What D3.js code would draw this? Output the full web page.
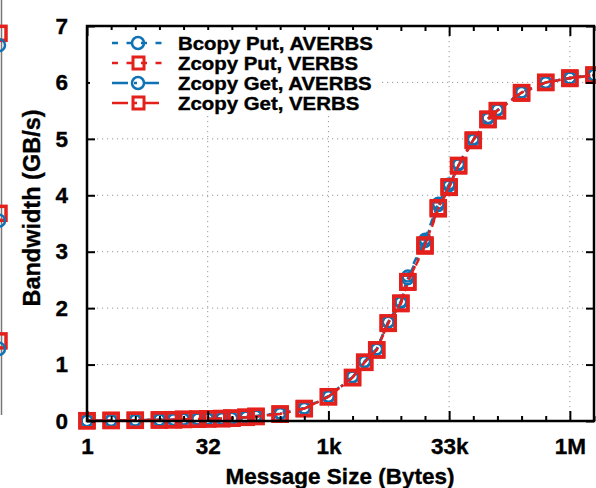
<!DOCTYPE html>
<html><head><meta charset="utf-8">
<script src="https://cdn.jsdelivr.net/npm/d3@7"></script>
<style>
html,body{margin:0;padding:0;background:#fff;}
text{font-family:"Liberation Sans",Arial,Helvetica,sans-serif;font-weight:bold;fill:#000;stroke:#000;stroke-width:0.35px;}
</style></head>
<body>
<svg id="chart" width="596" height="488"></svg>
<script>
// ---- data ----
const sizes = [1,2,4,8,12,16,24,32,48,64,96,128,256,512,1024,2048,2900,4096,5700,8192,10000,16384,24000,32768,43000,65536,100000,131072,262144,524288,1048576,2097152];
const bcopyPutAverbs = [0.005,0.01,0.015,0.02,0.025,0.03,0.035,0.04,0.045,0.05,0.07,0.09,0.14,0.23,0.44,0.79,1.06,1.28,1.76,2.12,2.57,3.22,3.86,4.2,4.56,5.0,5.38,5.52,5.83,6.0,6.08,6.13];
const zcopyPutVerbs  = [0.005,0.01,0.012,0.018,0.022,0.028,0.032,0.038,0.042,0.05,0.065,0.08,0.12,0.22,0.43,0.77,1.04,1.26,1.73,2.08,2.46,3.1,3.76,4.14,4.52,4.97,5.34,5.5,5.81,6.0,6.07,6.13];
const zcopyGetAverbs = [0.005,0.01,0.015,0.02,0.024,0.03,0.034,0.04,0.044,0.05,0.068,0.085,0.13,0.22,0.43,0.78,1.05,1.27,1.75,2.1,2.52,3.18,3.82,4.17,4.54,4.98,5.36,5.51,5.82,6.0,6.08,6.13];
const zcopyGetVerbs  = [0.005,0.01,0.013,0.019,0.023,0.029,0.033,0.039,0.043,0.05,0.066,0.082,0.125,0.22,0.43,0.77,1.04,1.26,1.74,2.09,2.47,3.12,3.78,4.15,4.53,4.98,5.35,5.5,5.82,6.0,6.08,6.13];
const seriesNames = ["Bcopy Put, AVERBS","Zcopy Put, VERBS","Zcopy Get, AVERBS","Zcopy Get, VERBS"];
const yTicks = [0,1,2,3,4,5,6,7];
const xMajorTicks = [1,32,1024,32768,1048576];
const xTickLabels = ["1","32","1k","33k","1M"];
const xLabel = "Message Size (Bytes)";
const yLabel = "Bandwidth (GB/s)";
// partially visible neighbouring panel at the left edge
const neighbourRed = [6.87,3.68,1.42];
const neighbourBlue = [6.66,3.55,1.28];

// ---- setup ----
const svg = d3.select("#chart");
const L = 87, R = 594, T = 26, B = 421;
const x = d3.scaleLog().base(2).domain([1, Math.pow(2,21)]).range([L, R]);
const y = d3.scaleLinear().domain([0,7]).range([B, T]);
const BLUE = "#0f72b5", RED = "#e3201b";

const styles = [
  {vals: bcopyPutAverbs, color: BLUE, marker: "circle", dash: "7,7"},
  {vals: zcopyPutVerbs,  color: RED,  marker: "square", dash: "7,7"},
  {vals: zcopyGetAverbs, color: BLUE, marker: "circle", dash: "15,6,3,6"},
  {vals: zcopyGetVerbs,  color: RED,  marker: "square", dash: "15,6,3,6"}
];

// neighbour panel remnants
svg.append("line").attr("x1",1.5).attr("x2",1.5).attr("y1",0).attr("y2",415)
  .attr("stroke","#777").attr("stroke-width",1.5);
neighbourRed.forEach(v=>svg.append("rect").attr("x",-8).attr("y",y(v)-7).attr("width",14).attr("height",14)
  .attr("fill","none").attr("stroke",RED).attr("stroke-width",3.5));
neighbourBlue.forEach(v=>svg.append("circle").attr("cx",-1).attr("cy",y(v)).attr("r",6)
  .attr("fill","none").attr("stroke",BLUE).attr("stroke-width",2.5));

// grid
const grid = svg.append("g");
xMajorTicks.slice(1).forEach(t=>grid.append("line").attr("x1",x(t)).attr("x2",x(t)).attr("y1",T).attr("y2",B)
  .attr("stroke","#999").attr("stroke-width",1).attr("stroke-dasharray","1.2,3.8"));
yTicks.slice(1,-1).forEach(t=>grid.append("line").attr("x1",L).attr("x2",R).attr("y1",y(t)).attr("y2",y(t))
  .attr("stroke","#999").attr("stroke-width",1).attr("stroke-dasharray","1.2,3.8"));

// series
const line = d3.line().x((d,i)=>x(sizes[i])).y(d=>y(d));
styles.forEach(s=>{
  const g = svg.append("g");
  g.append("path").datum(s.vals).attr("d",line).attr("fill","none")
    .attr("stroke",s.color).attr("stroke-width",2.5).attr("stroke-dasharray",s.dash);
  if (s.marker==="circle") {
    g.selectAll("circle").data(s.vals).join("circle")
      .attr("cx",(d,i)=>x(sizes[i])).attr("cy",d=>y(d)).attr("r",5.5)
      .attr("fill","none").attr("stroke",s.color).attr("stroke-width",2.5);
  } else {
    g.selectAll("rect").data(s.vals).join("rect")
      .attr("x",(d,i)=>x(sizes[i])-7).attr("y",d=>y(d)-7).attr("width",14).attr("height",14)
      .attr("fill","none").attr("stroke",s.color).attr("stroke-width",3.5);
  }
});

// axes (frame with inward ticks)
const ax = svg.append("g");
const minor = d3.range(0,22).map(e=>Math.pow(2,e));
const styleText = g=>g.selectAll("text").attr("font-size",22.5).attr("font-family","Liberation Sans, Arial, sans-serif")
  .attr("font-weight","bold").attr("fill","#000").attr("stroke","#000").attr("stroke-width",0.35);
ax.append("g").attr("transform",`translate(0,${B})`)
  .call(d3.axisBottom(x).tickValues(minor).tickSize(0).tickFormat(""))
  .call(g=>g.select(".domain").remove())
  .call(g=>g.selectAll(".tick line").attr("y2",d=>xMajorTicks.includes(d)?-10:-5).attr("stroke","#000").attr("stroke-width",2));
ax.append("g").attr("transform",`translate(0,${T})`)
  .call(d3.axisTop(x).tickValues(minor).tickSize(0).tickFormat(""))
  .call(g=>g.select(".domain").remove())
  .call(g=>g.selectAll(".tick line").attr("y2",d=>xMajorTicks.includes(d)?10:5).attr("stroke","#000").attr("stroke-width",2));
ax.append("g").attr("transform",`translate(0,${B})`)
  .call(d3.axisBottom(x).tickValues(xMajorTicks).tickSize(0).tickPadding(17).tickFormat((d,i)=>xTickLabels[i]))
  .call(g=>g.select(".domain").remove())
  .call(styleText);
ax.append("g").attr("transform",`translate(${L},0)`)
  .call(d3.axisLeft(y).tickValues(yTicks).tickSize(0).tickPadding(19).tickFormat(d3.format("d")))
  .call(g=>g.select(".domain").remove())
  .call(g=>g.selectAll(".tick line").attr("x2",8).attr("stroke","#000").attr("stroke-width",2))
  .call(styleText);
ax.append("g").attr("transform",`translate(${R},0)`)
  .call(d3.axisRight(y).tickValues(yTicks).tickSize(0).tickFormat(""))
  .call(g=>g.select(".domain").remove())
  .call(g=>g.selectAll(".tick line").attr("x2",-8).attr("stroke","#000").attr("stroke-width",2));

// legend (opaque box)
const lg = svg.append("g");
lg.append("rect").attr("x",90).attr("y",30).attr("width",290).attr("height",83).attr("fill","#fff");
const rowY = [43,63,83,103];
styles.forEach((s,i)=>{
  const yy = rowY[i];
  lg.append("line").attr("x1",112).attr("x2",165).attr("y1",yy).attr("y2",yy)
    .attr("stroke",s.color).attr("stroke-width",2.5).attr("stroke-dasharray",i<2?"6,8.5":"16,6,3,6");
  if (s.marker==="circle") lg.append("circle").attr("cx",138).attr("cy",yy).attr("r",6)
    .attr("fill","none").attr("stroke",s.color).attr("stroke-width",2.5);
  else lg.append("rect").attr("x",133).attr("y",yy-6).attr("width",11).attr("height",12)
    .attr("fill","none").attr("stroke",s.color).attr("stroke-width",3);
  lg.append("text").attr("transform",`translate(178,${yy+6.5}) scale(1.2,1.06)`).attr("font-size",17).text(seriesNames[i]);
});

// frame
svg.append("rect").attr("x",L).attr("y",T).attr("width",R-L).attr("height",B-T)
  .attr("fill","none").attr("stroke","#000").attr("stroke-width",2.5);

// axis titles
svg.append("text").attr("x",340).attr("y",484).attr("text-anchor","middle").attr("font-size",22.5).text(xLabel);
svg.append("text").attr("transform","translate(40,208) rotate(-90)").attr("text-anchor","middle").attr("font-size",23.5).text(yLabel);
</script>
</body></html>
